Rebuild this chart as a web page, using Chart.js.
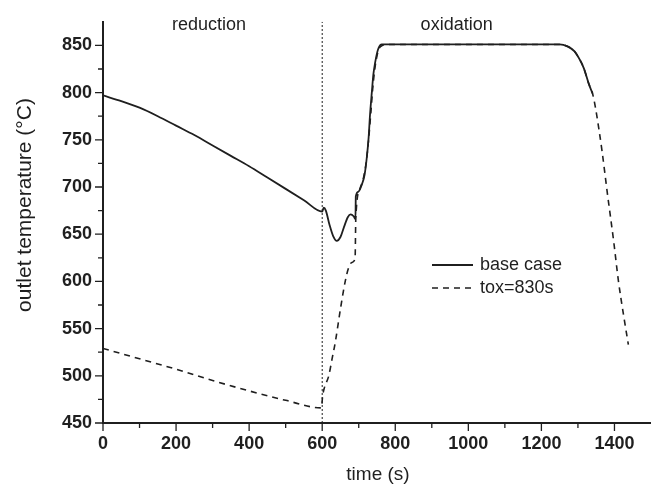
<!DOCTYPE html>
<html>
<head>
<meta charset="utf-8">
<script src="https://cdn.jsdelivr.net/npm/chart.js@4"></script>
<style>
html, body { margin: 0; padding: 0; background: #fff; }
#wrap { width: 651px; height: 487px; }
</style>
</head>
<body>
<div id="wrap"><canvas id="tempChart" width="651" height="487"></canvas></div>
<script>
// outlet temperature vs time, two cases
var baseTime = [0, 50, 100, 150, 200, 250, 300, 350, 400, 450, 500, 550, 600, 604, 610, 620, 630, 640, 650, 660,
    670, 678, 686, 691, 692, 699, 708, 716, 722, 727, 731, 736, 740, 745, 749, 754, 763, 780, 1000, 1200,
    1250, 1271, 1290, 1305, 1316, 1330, 1340];
var baseTemp = [797, 791, 784, 775, 765, 755, 744, 733, 722, 710, 698, 686, 674, 678, 675, 660, 648, 643, 647, 658,
    668, 671, 669, 666, 690, 695, 702, 713, 731, 752, 777, 801, 819, 832, 840, 847, 851, 851, 851, 851,
    851, 849, 844, 835, 826, 809, 799];
var toxTime = [0, 100, 200, 300, 400, 500, 598, 601, 605, 618, 627, 636, 650, 663, 672, 681, 690, 692, 704, 712,
    720, 727, 733, 738, 743, 748, 755, 765, 780, 1000, 1200, 1250, 1271, 1290, 1305, 1316, 1330, 1340, 1348, 1366,
    1380, 1398, 1411, 1425, 1438];
var toxTemp = [529, 518, 507, 495, 484, 474, 466, 478, 486, 500, 518, 536, 571, 600, 614, 620, 624, 667, 699, 708,
    725, 750, 778, 803, 822, 835, 846, 850, 851, 851, 851, 851, 849, 844, 835, 826, 809, 799, 784, 738,
    695, 642, 600, 564, 533];
var seriesNames = ["base case", "tox=830s"];
var phaseNames = ["reduction", "oxidation"];
var switchTime = 600;

var xTicks = [0, 200, 400, 600, 800, 1000, 1200, 1400];
var xMinor = [100, 300, 500, 700, 900, 1100, 1300];
var yTicks = [450, 500, 550, 600, 650, 700, 750, 800, 850];
var yMinor = [475, 525, 575, 625, 675, 725, 775, 825];

var ink = "#1f1f1f";
var fam = "'Liberation Sans', Arial, sans-serif";

function pts(xs, ys) {
    return xs.map(function (x, i) { return {x: x, y: ys[i]}; });
}

var decor = {
    id: "decor",
    afterDraw: function (chart) {
        var ctx = chart.ctx, xs = chart.scales.x, ys = chart.scales.y, area = chart.chartArea;
        ctx.save();
        ctx.strokeStyle = ink;
        ctx.lineWidth = 1.3;
        ctx.beginPath();
        xTicks.forEach(function (v) {
            var p = xs.getPixelForValue(v);
            ctx.moveTo(p, area.bottom); ctx.lineTo(p, area.bottom + 8);
        });
        xMinor.forEach(function (v) {
            var p = xs.getPixelForValue(v);
            ctx.moveTo(p, area.bottom); ctx.lineTo(p, area.bottom + 5);
        });
        yTicks.forEach(function (v) {
            var p = ys.getPixelForValue(v);
            ctx.moveTo(area.left, p); ctx.lineTo(area.left - 8, p);
        });
        yMinor.forEach(function (v) {
            var p = ys.getPixelForValue(v);
            ctx.moveTo(area.left, p); ctx.lineTo(area.left - 5, p);
        });
        ctx.stroke();

        // legend
        ctx.lineWidth = 1.8;
        ctx.beginPath(); ctx.moveTo(432, 265); ctx.lineTo(473, 265); ctx.stroke();
        ctx.setLineDash([6, 5]);
        ctx.lineWidth = 1.6;
        ctx.beginPath(); ctx.moveTo(432, 288); ctx.lineTo(473, 288); ctx.stroke();
        ctx.setLineDash([]);
        ctx.fillStyle = ink;
        ctx.font = "18px " + fam;
        ctx.textAlign = "left";
        ctx.textBaseline = "middle";
        ctx.fillText(seriesNames[0], 480, 265);
        ctx.fillText(seriesNames[1], 480, 288);

        // phase labels
        ctx.textAlign = "center";
        ctx.textBaseline = "alphabetic";
        ctx.fillText(phaseNames[0], xs.getPixelForValue(290), 30);
        ctx.fillText(phaseNames[1], xs.getPixelForValue(968), 30);

        // axis titles
        ctx.textBaseline = "middle";
        ctx.font = "19px " + fam;
        ctx.fillText("time (s)", 378, 475);
        ctx.translate(25, 205);
        ctx.rotate(-Math.PI / 2);
        ctx.font = "21px " + fam;
        ctx.fillText("outlet temperature (°C)", 0, 0);
        ctx.restore();
    }
};

var tickFont = {family: fam, size: 18, weight: "bold"};

new Chart(document.getElementById("tempChart").getContext("2d"), {
    type: "line",
    data: {
        datasets: [{
            label: seriesNames[0],
            data: pts(baseTime, baseTemp),
            borderColor: ink,
            borderWidth: 1.8,
            cubicInterpolationMode: "monotone"
        }, {
            label: seriesNames[1],
            data: pts(toxTime, toxTemp),
            borderColor: ink,
            borderWidth: 1.6,
            borderDash: [6, 5],
            cubicInterpolationMode: "monotone"
        }, {
            label: "switch",
            data: [{x: switchTime, y: 450}, {x: switchTime, y: 875}],
            borderColor: ink,
            borderWidth: 1,
            borderDash: [2, 2]
        }]
    },
    options: {
        responsive: false,
        animation: false,
        layout: {padding: {top: 21, right: 0, left: 0, bottom: 0}},
        elements: {point: {radius: 0}},
        plugins: {legend: {display: false}, tooltip: {enabled: false}},
        scales: {
            x: {
                type: "linear",
                min: 0,
                max: 1500,
                afterFit: function (s) { s.height = 64; },
                afterBuildTicks: function (s) { s.ticks = xTicks.map(function (v) { return {value: v}; }); },
                grid: {display: false, drawTicks: false},
                border: {display: true, color: ink, width: 2},
                ticks: {
                    padding: 10, color: ink, font: tickFont, maxRotation: 0, autoSkip: false,
                    callback: function (v) { return String(v); }
                }
            },
            y: {
                min: 450,
                max: 875,
                afterFit: function (s) { s.width = 103; },
                afterBuildTicks: function (s) { s.ticks = yTicks.map(function (v) { return {value: v}; }); },
                grid: {display: false, drawTicks: false},
                border: {display: true, color: ink, width: 2},
                ticks: {
                    padding: 11, color: ink, font: tickFont, autoSkip: false,
                    callback: function (v) { return String(v); }
                }
            }
        }
    },
    plugins: [decor]
});
</script>
</body>
</html>
